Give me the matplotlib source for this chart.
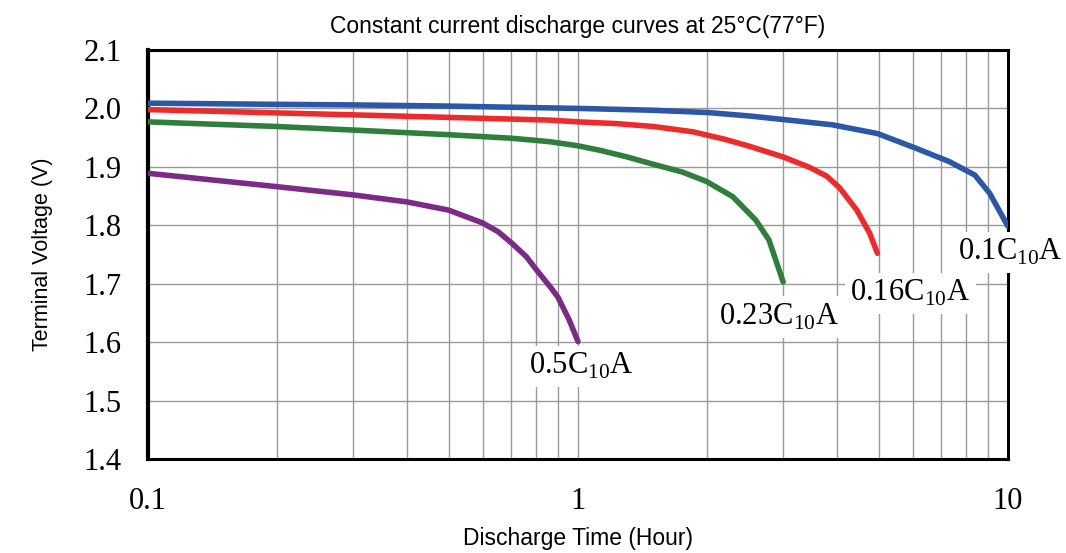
import numpy as np
import matplotlib.pyplot as plt
from matplotlib.ticker import FixedLocator, NullFormatter

# Discharge curves (hours, volts per cell)
t_01 = [0.1, 0.2, 0.3, 0.5, 1.0, 1.47, 2.0, 2.51, 3.0, 3.9, 4.97, 6.1, 7.3, 8.37, 9.06, 10.0]
v_01 = [2.009, 2.007, 2.006, 2.004, 2.000, 1.997, 1.993, 1.987, 1.981, 1.972, 1.957, 1.932,
        1.909, 1.886, 1.855, 1.798]

t_016 = [0.1, 0.3, 0.861, 1.0, 1.23, 1.5, 1.85, 2.2, 2.51, 3.0, 3.46, 3.79, 4.06, 4.45, 4.77, 4.97]
v_016 = [1.998, 1.989, 1.980, 1.977, 1.974, 1.969, 1.960, 1.947, 1.935, 1.917, 1.899, 1.884,
         1.864, 1.826, 1.786, 1.752]

t_023 = [0.1, 0.2, 0.3, 0.5, 0.7, 0.861, 1.0, 1.13, 1.3, 1.47, 1.75, 1.99, 2.29, 2.59, 2.78, 3.0]
v_023 = [1.977, 1.969, 1.963, 1.955, 1.949, 1.943, 1.936, 1.928, 1.917, 1.906, 1.891, 1.875,
         1.849, 1.809, 1.775, 1.703]

t_05 = [0.1, 0.2, 0.3, 0.4, 0.5, 0.6, 0.652, 0.7, 0.759, 0.8, 0.861, 0.898, 0.954, 1.0]
v_05 = [1.889, 1.866, 1.852, 1.840, 1.826, 1.804, 1.789, 1.770, 1.746, 1.724, 1.695, 1.677,
        1.638, 1.601]

series = [
    (t_01, v_01, '#2a57a8'),
    (t_016, v_016, '#ee2b2b'),
    (t_023, v_023, '#2f7f3c'),
    (t_05, v_05, '#7b2a86'),
]

labels = ['0.1C$_\\mathregular{10}$A', '0.16C$_\\mathregular{10}$A',
          '0.23C$_\\mathregular{10}$A', '0.5C$_\\mathregular{10}$A']
label_pos = [(10.1, 1.754), (5.92, 1.684), (2.93, 1.643), (1.016, 1.559)]

y_ticks = [1.4, 1.5, 1.6, 1.7, 1.8, 1.9, 2.0, 2.1]
x_ticks = [0.1, 1, 10]
x_tick_labels = ['0.1', '1', '10']

serif = 'Liberation Serif'
sans = 'Liberation Sans'

fig = plt.figure(figsize=(10.66, 5.53), dpi=100)
ax = fig.add_axes([0.1388, 0.170, 0.8068, 0.7396])

ax.set_xscale('log')
ax.set_xlim(0.1, 10)
ax.set_ylim(1.4, 2.1)

# grid
minor = [m * 10.0 ** d for d in (-1, 0) for m in range(2, 10)]
ax.xaxis.set_minor_locator(FixedLocator(minor))
ax.xaxis.set_minor_formatter(NullFormatter())
ax.set_xticks(x_ticks)
ax.set_xticklabels(x_tick_labels, fontfamily=serif, fontsize=22)
ax.set_yticks(y_ticks)
ax.set_yticklabels([f'{v:.1f}' for v in y_ticks], fontfamily=serif, fontsize=22)
ax.grid(True, which='both', color='#9a9a9a', lw=1.0, zorder=0)
ax.tick_params(which='both', length=0)
ax.tick_params(axis='y', pad=19)
ax.tick_params(axis='x', pad=20)

for sp in ax.spines.values():
    sp.set_linewidth(2.2)
    sp.set_color('black')
ax.spines['left'].set_linewidth(3)

for t, v, c in series:
    ax.plot(t, v, color=c, lw=4, solid_capstyle='round', solid_joinstyle='round', zorder=3)

for lab, (x, y) in zip(labels, label_pos):
    ax.text(x, y, lab, fontfamily=serif, fontsize=22, ha='center', va='center',
            zorder=5, clip_on=False,
            bbox=dict(facecolor='white', edgecolor='none', pad=4))

ax.set_title('Constant current discharge curves at 25°C(77°F)',
             fontfamily=sans, fontsize=16.5, pad=12)
ax.set_xlabel('Discharge Time (Hour)', fontfamily=sans, fontsize=16.5, labelpad=8)
ax.set_ylabel('Terminal Voltage (V)', fontfamily=sans, fontsize=15.5, labelpad=22)

fig.savefig('out.png', dpi=100)
